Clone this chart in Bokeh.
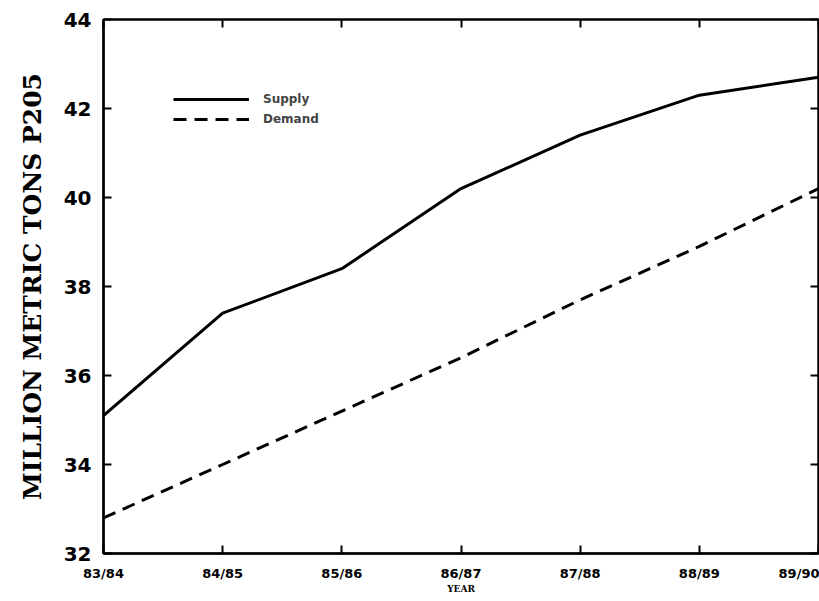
from bokeh.plotting import figure
from bokeh.models import Range1d, FixedTicker, LinearAxis, Legend, LegendItem
from bokeh.embed import file_html
from bokeh.resources import INLINE

years = ["83/84", "84/85", "85/86", "86/87", "87/88", "88/89", "89/90"]
supply = [35.1, 37.4, 38.4, 40.2, 41.4, 42.3, 42.7]
demand = [32.8, 34.0, 35.2, 36.4, 37.7, 38.9, 40.2]
y_ticks = [32, 34, 36, 38, 40, 42, 44]

xs = list(range(len(years)))

p = figure(width=819, height=601, output_backend="svg", toolbar_location=None,
           x_range=Range1d(0, len(years) - 1), y_range=Range1d(32, 44),
           min_border_left=103, min_border_right=1, min_border_top=19, min_border_bottom=48)
p.background_fill_color = "white"
p.border_fill_color = "white"
p.outline_line_color = "black"
p.outline_line_width = 2
p.grid.visible = False

r1 = p.line(xs, supply, line_color="black", line_width=3)
r2 = p.line(xs, demand, line_color="black", line_width=3, line_dash="13 8")

xa = p.xaxis[0]
xa.ticker = FixedTicker(ticks=xs)
xa.major_label_overrides = {i: y for i, y in enumerate(years)}
xa.axis_label = "YEAR"
xa.axis_label_text_font = "DejaVu Serif"
xa.axis_label_text_font_size = "9px"
xa.axis_label_text_font_style = "bold"
xa.axis_label_standoff = 0
xa.major_label_text_font = "DejaVu Sans"
xa.major_label_text_font_style = "bold"
xa.major_label_text_font_size = "13px"
xa.major_label_standoff = 12

ya = p.yaxis[0]
ya.ticker = FixedTicker(ticks=y_ticks)
ya.axis_label = "MILLION METRIC TONS P205"
ya.axis_label_text_font = "DejaVu Serif"
ya.axis_label_text_font_size = "25px"
ya.axis_label_text_font_style = "bold"
ya.axis_label_standoff = 14
ya.major_label_text_font = "DejaVu Sans"
ya.major_label_text_font_style = "bold"
ya.major_label_text_font_size = "20px"
ya.major_label_standoff = 12

for ax in (xa, ya):
    ax.axis_line_width = 2.5
    ax.axis_line_color = "black"
    ax.major_tick_in = 8
    ax.major_tick_out = 0
    ax.major_tick_line_width = 2
    ax.minor_tick_line_color = None
    ax.major_label_text_color = "black"
    ax.axis_label_text_color = "black"

top = LinearAxis(ticker=FixedTicker(ticks=xs), major_label_text_font_size="0px",
                 major_tick_in=8, major_tick_out=0, major_tick_line_width=2,
                 minor_tick_line_color=None, axis_line_width=2)
p.add_layout(top, "above")
right = LinearAxis(ticker=FixedTicker(ticks=y_ticks), major_label_text_font_size="0px",
                   major_tick_in=8, major_tick_out=0, major_tick_line_width=2,
                   minor_tick_line_color=None, axis_line_width=2)
p.add_layout(right, "right")

legend = Legend(items=[LegendItem(label="Supply", renderers=[r1]),
                       LegendItem(label="Demand", renderers=[r2])],
                location=(70, 425), border_line_color=None, background_fill_alpha=0,
                padding=0, margin=0, spacing=2, glyph_width=76, glyph_height=18,
                label_text_font="DejaVu Sans", label_text_font_style="bold",
                label_text_font_size="12px", label_standoff=14)
p.add_layout(legend, "center")

open("out.html", "w").write(file_html(p, INLINE))
